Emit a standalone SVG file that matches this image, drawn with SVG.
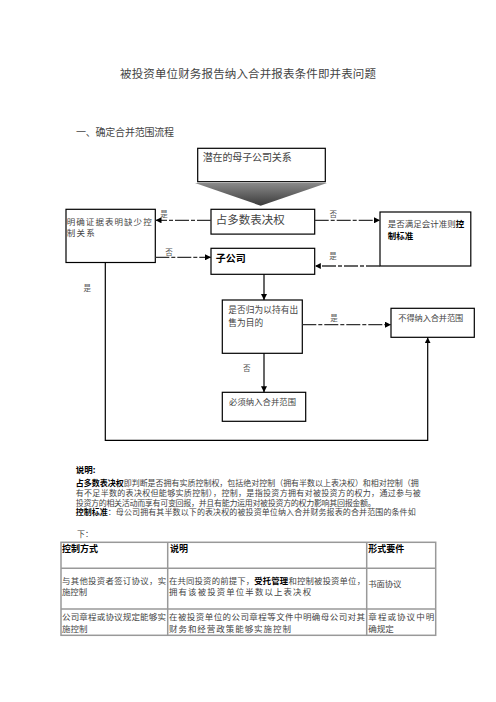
<svg xmlns="http://www.w3.org/2000/svg" width="496" height="702" viewBox="0 0 496 702">
<style>
text{font-family:"Noto Sans CJK SC","Noto Sans",sans-serif;fill:#444}
.b{font-weight:bold;fill:#000}
.box{fill:#fff;stroke:#000;stroke-width:1.2}
.lbl{font-size:7.5px;text-anchor:middle;fill:#555}
.dash{fill:none;stroke:#333;stroke-width:1.3;stroke-dasharray:14 2 4 2}
.solid{fill:none;stroke:#000;stroke-width:1.2}
.grid{fill:none;stroke:#999;stroke-width:1.5}
</style>
<defs>
<marker id="ah" viewBox="0 0 10 10" refX="10" refY="5" markerWidth="6" markerHeight="6" markerUnits="userSpaceOnUse" orient="auto">
<path d="M0,0 L10,5 L0,10 z" fill="#000"/>
</marker>
<linearGradient id="tg" x1="0" y1="0" x2="0" y2="1">
<stop offset="0" stop-color="#8a8a8a"/>
<stop offset="1" stop-color="#3a3a3a"/>
</linearGradient>
</defs>
<rect width="496" height="702" fill="#fff"/>

<text x="248" y="78.4" font-size="11.5" text-anchor="middle" textLength="256" lengthAdjust="spacing">被投资单位财务报告纳入合并报表条件即并表问题</text>
<text x="76" y="135.5" font-size="10" textLength="98" lengthAdjust="spacing">一、确定合并范围流程</text>

<g id="n_top">
<rect class="box" x="197.7" y="148.3" width="127.6" height="33.4"/>
<text x="202.7" y="160.5" font-size="10" textLength="89" lengthAdjust="spacing">潜在的母子公司关系</text>
</g>
<g id="n_tri">
<polygon points="195,183 327,183 260.7,205.7" fill="url(#tg)"/>
</g>

<g id="n_left">
<rect class="box" x="66" y="209.3" width="89.3" height="53.2"/>
<text x="66.7" y="225" font-size="8.5" textLength="85" lengthAdjust="spacing">明确证据表明缺少控</text>
<text x="66.7" y="235.5" font-size="8.5" textLength="28" lengthAdjust="spacing">制关系</text>
</g>
<g id="n_major">
<rect class="box" x="211" y="209.3" width="103.7" height="24.8"/>
<text x="215.7" y="223.7" font-size="11.5" textLength="69" lengthAdjust="spacing">占多数表决权</text>
</g>
<g id="n_right">
<rect class="box" x="380" y="212" width="90.8" height="54"/>
<text x="387.7" y="226.5" font-size="8.5">是否满足会计准则<tspan class="b">控</tspan></text>
<text x="387.7" y="238.5" font-size="8.5" class="b">制标准</text>
</g>
<g id="n_sub">
<rect class="box" x="211" y="248.3" width="103.7" height="26"/>
<text x="215.7" y="262" font-size="10" class="b" textLength="30" lengthAdjust="spacing">子公司</text>
</g>
<g id="n_hold">
<rect class="box" x="222.3" y="300" width="80" height="53.3"/>
<text x="228.3" y="313.3" font-size="8.7" textLength="70" lengthAdjust="spacing">是否归为以持有出</text>
<text x="228.3" y="325.6" font-size="8.7" textLength="35" lengthAdjust="spacing">售为目的</text>
</g>
<g id="n_excl">
<rect class="box" x="391" y="308.3" width="83.3" height="29"/>
<text x="398.3" y="321" font-size="8.2" textLength="65" lengthAdjust="spacing">不得纳入合并范围</text>
</g>
<g id="n_incl">
<rect class="box" x="222.3" y="392.3" width="83.4" height="29"/>
<text x="229" y="405" font-size="8.3" textLength="67" lengthAdjust="spacing">必须纳入合并范围</text>
</g>

<g id="connectors">
<path class="dash" d="M211,220.3 H155.5" marker-end="url(#ah)"/>
<path class="dash" d="M314.7,220.3 H380" marker-end="url(#ah)"/>
<path class="dash" d="M155.3,257.3 H211" marker-end="url(#ah)"/>
<path class="dash" d="M380,266 H314.8" marker-end="url(#ah)"/>
<path class="solid" d="M264,274.3 V300" marker-end="url(#ah)"/>
<path class="dash" d="M302.3,324.7 H391" marker-end="url(#ah)"/>
<path class="solid" d="M264,353.3 V392.3" marker-end="url(#ah)"/>
<path class="solid" d="M105.3,262.5 V440.3 H427.7 V337.4" marker-end="url(#ah)"/>
<text class="lbl" x="164" y="217">是</text>
<text class="lbl" x="333.3" y="217">否</text>
<text class="lbl" x="169" y="254.5">否</text>
<text class="lbl" x="333" y="259">是</text>
<text class="lbl" x="87.3" y="291">是</text>
<text class="lbl" x="334" y="321">是</text>
<text class="lbl" x="246.7" y="371">否</text>
</g>

<g id="notes">
<text x="75.7" y="473" font-size="8.5" class="b">说明:</text>
<text x="75.7" y="485.7" font-size="8"><tspan class="b">占多数表决权</tspan><tspan textLength="295" lengthAdjust="spacing">即判断是否拥有实质控制权，包括绝对控制（拥有半数以上表决权）和相对控制（拥</tspan></text>
<text x="75.7" y="495.7" font-size="8" textLength="345" lengthAdjust="spacing">有不足半数的表决权但能够实质控制），控制，是指投资方拥有对被投资方的权力，通过参与被</text>
<text x="75.7" y="505.5" font-size="8" textLength="300" lengthAdjust="spacing">投资方的相关活动而享有可变回报，并且有能力运用对被投资方的权力影响其回报金额。</text>
<text x="75.7" y="515.3" font-size="8"><tspan class="b">控制标准</tspan><tspan textLength="308" lengthAdjust="spacing">：母公司拥有其半数以下的表决权的被投资单位纳入合并财务报表的合并范围的条件如</tspan></text>
<text x="77" y="537" font-size="8">下：</text>
</g>

<g id="table">
<rect class="grid" x="61" y="542.3" width="374.7" height="93"/>
<path class="grid" d="M61,568.3 H435.7 M61,609 H435.7 M167.7,542.3 V635.3 M366.7,542.3 V635.3"/>
<text x="62" y="551.7" font-size="9" class="b">控制方式</text>
<text x="170" y="551.7" font-size="9" class="b">说明</text>
<text x="368.3" y="551.7" font-size="9" class="b">形式要件</text>
<text x="62" y="584" font-size="8.4" textLength="104" lengthAdjust="spacing">与其他投资者签订协议，实</text>
<text x="62" y="594.5" font-size="8.4">施控制</text>
<text x="169" y="584" font-size="8.4" textLength="196" lengthAdjust="spacing">在共同投资的前提下，<tspan class="b">受托管理</tspan>和控制被投资单位，</text>
<text x="169" y="594.5" font-size="8.4" textLength="142" lengthAdjust="spacing">拥有该被投资单位半数以上表决权</text>
<text x="368.3" y="586.5" font-size="8.4" textLength="33" lengthAdjust="spacing">书面协议</text>
<text x="62" y="620" font-size="8.5" textLength="104" lengthAdjust="spacing">公司章程或协议规定能够实</text>
<text x="62" y="631.6" font-size="8.5">施控制</text>
<text x="169" y="620" font-size="8.5" textLength="196" lengthAdjust="spacing">在被投资单位的公司章程等文件中明确母公司对其</text>
<text x="169" y="631.6" font-size="8.5" textLength="122" lengthAdjust="spacing">财务和经营政策能够实施控制</text>
<text x="368.3" y="620" font-size="8.5" textLength="66" lengthAdjust="spacing">章程或协议中明</text>
<text x="368.3" y="631.6" font-size="8.5">确规定</text>
</g>
</svg>
